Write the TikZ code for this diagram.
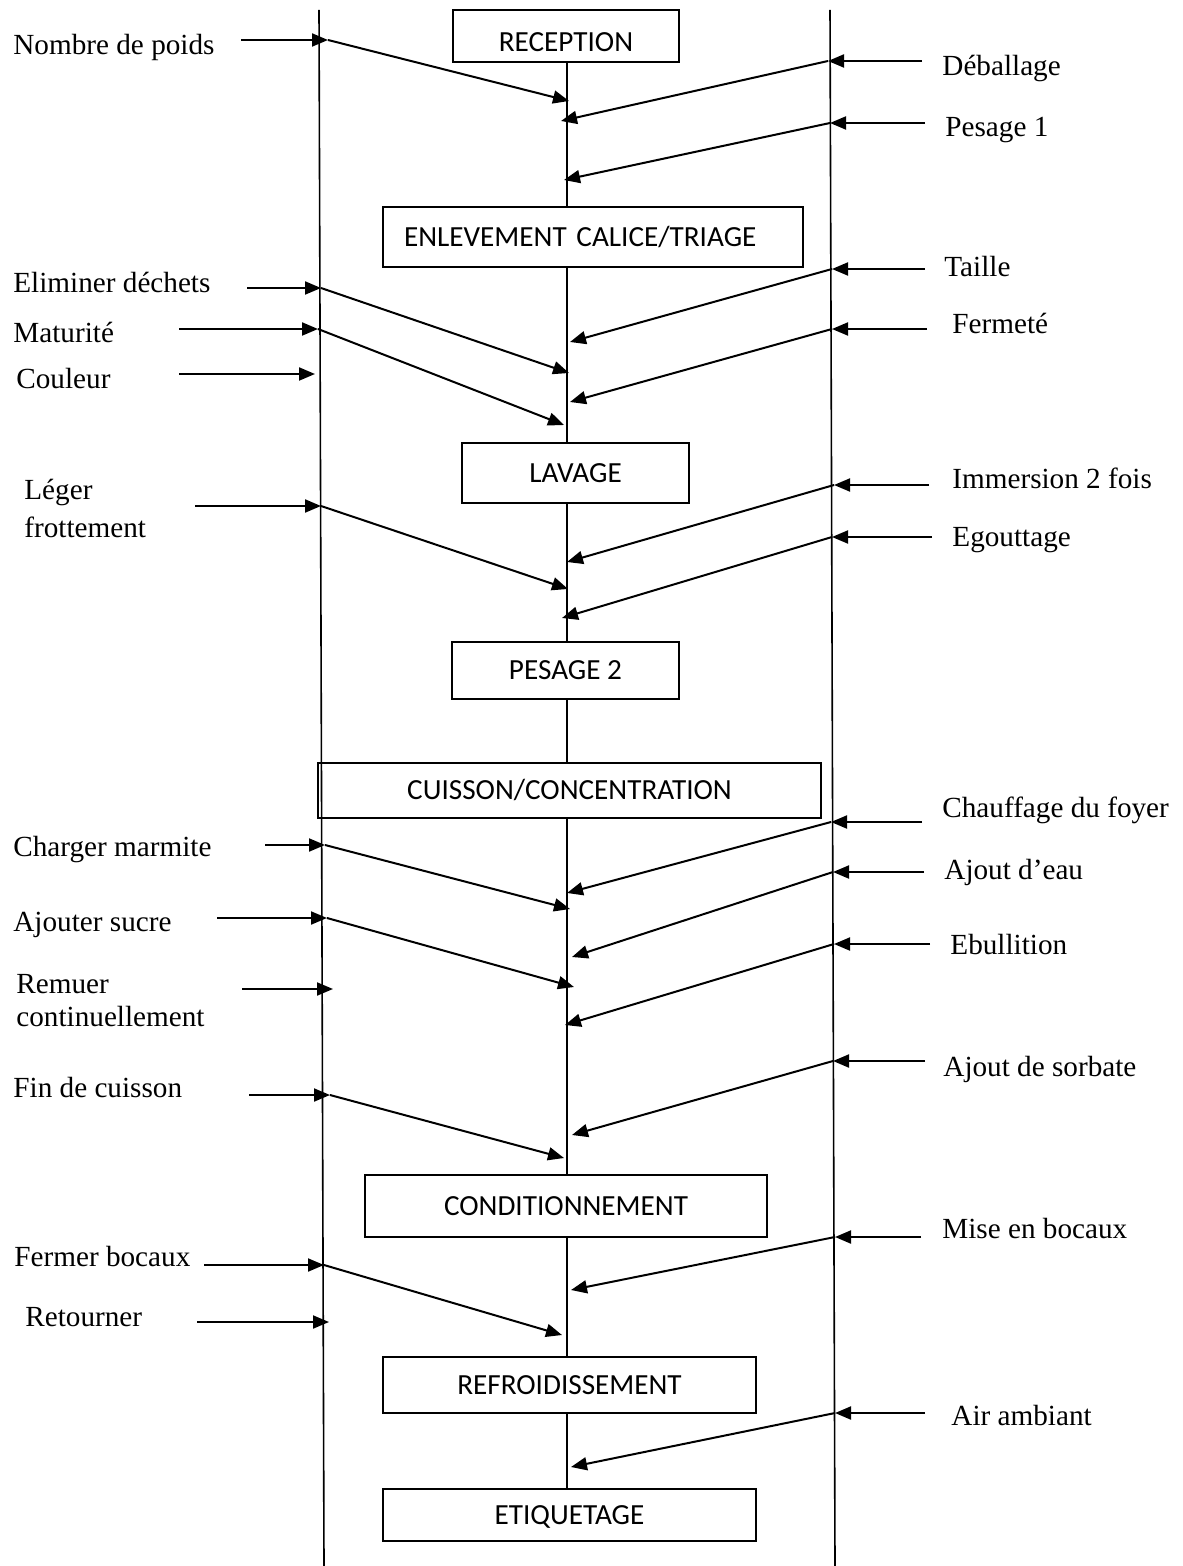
\documentclass[tikz,border=0pt]{standalone}
\usepackage{fontspec}
\setmainfont{Liberation Serif}
\newfontfamily\boxfont{Carlito}
\usetikzlibrary{arrows.meta}

\begin{document}
\begin{tikzpicture}[
    x=0.5pt, y=-0.5pt,
    stage/.style={draw, line width=0.9pt, inner sep=0pt,
                  font=\boxfont\fontsize{14.6}{17}\selectfont,
                  text height=9.4pt, text depth=0pt},
    lbl/.style={inner sep=0pt, font=\fontsize{14.6}{16.5}\selectfont},
    rail/.style={line width=0.8pt},
    link/.style={line width=0.8pt},
    feed/.style={line width=1pt, -{Triangle[length=8pt, width=6.5pt]}}
  ]
  \useasboundingbox (0,0) rectangle (1182,1566);

  % Rails left and right
  \coordinate (railL-top) at (319,10);
  \coordinate (railL-bot) at (324,1566);
  \coordinate (railR-top) at (830,10);
  \coordinate (railR-bot) at (835,1566);
  \draw[rail] (railL-top) -- (railL-bot);
  \draw[rail] (railR-top) -- (railR-bot);

  % Process stages
  \node[stage, minimum width=113pt, minimum height=26pt, text height=15.4pt]
    (rec) at (566,36) {RECEPTION};
  \node[stage, minimum width=210pt, minimum height=30pt, text width=189pt,
        align=left, inner xsep=10.5pt] (enl) at (593,237) {ENLEVEMENT CALICE/TRIAGE};
  \node[stage, minimum width=113.5pt, minimum height=30pt] (lav) at (575.5,473) {LAVAGE};
  \node[stage, minimum width=113.5pt, minimum height=28.5pt] (pes) at (565.5,670.5) {PESAGE 2};
  \node[stage, minimum width=251.5pt, minimum height=27.5pt] (cui) at (569.5,790.5) {CUISSON/CONCENTRATION};
  \node[stage, minimum width=201pt, minimum height=31pt] (con) at (566,1206) {CONDITIONNEMENT};
  \node[stage, minimum width=186.5pt, minimum height=28pt] (ref) at (569.5,1385) {REFROIDISSEMENT};
  \node[stage, minimum width=186.5pt, minimum height=26pt] (eti) at (569.5,1515) {ETIQUETAGE};

  % Spine between stages
  \coordinate (spine) at (567,0);
  \foreach \a/\b in {rec/enl, enl/lav, lav/pes, pes/cui, cui/con, con/ref, ref/eti}
    \draw[link] (spine |- \a.south) -- (spine |- \b.north);

  % Left inputs with a link to the spine
  \foreach \n/\txt/\lx/\ly/\sx/\ay/\rx/\tx/\ty in {
      nombre/Nombre de poids/13/55/241/40/328/569/101,
      elim/Eliminer déchets/13/293/247/288/321/569/373,
      matur/Maturité/13/343/179/329/318/564/425,
      charg/Charger marmite/13/856/265/845/325/570/909,
      ajsuc/Ajouter sucre/13/931/217/918/327/574/987,
      fincu/Fin de cuisson/13/1097/249/1095/330/564/1158,
      fermb/Fermer bocaux/14/1266/204/1265/324/562/1335} {
    \node[lbl, anchor=base west] (\n) at (\lx,\ly) {\txt};
    \coordinate (\n-s) at (\sx,\ay);
    \coordinate (\n-r) at (\rx,\ay);
    \coordinate (\n-t) at (\tx,\ty);
    \draw[feed] (\n-s) -- (\n-r);
    \draw[feed] (\n-r) -- (\n-t);
  }

  % Left inputs stopping at the rail
  \foreach \n/\txt/\lx/\ly/\sx/\ay/\rx in {
      couleur/Couleur/16/389/179/374/315,
      retou/Retourner/25/1326/197/1322/329} {
    \node[lbl, anchor=base west] (\n) at (\lx,\ly) {\txt};
    \coordinate (\n-s) at (\sx,\ay);
    \coordinate (\n-r) at (\rx,\ay);
    \draw[feed] (\n-s) -- (\n-r);
  }

  % Two-line inputs
  \node[lbl, align=left, anchor=west] (leger) at (24,508) {Léger\\[2.5pt]frottement};
  \coordinate (leger-s) at (195,506);
  \coordinate (leger-r) at (321,506);
  \coordinate (leger-t) at (568,589);
  \draw[feed] (leger-s) -- (leger-r);
  \draw[feed] (leger-r) -- (leger-t);

  \node[lbl, align=left, anchor=west] (remu) at (16,1001) {Remuer\\continuellement};
  \coordinate (remu-s) at (242,989);
  \coordinate (remu-r) at (333,989);
  \draw[feed] (remu-s) -- (remu-r);

  % Right inputs
  \foreach \n/\txt/\lx/\ly/\sx/\ay/\rx/\tx/\ty in {
      deball/Déballage/942/76/922/61/828/561/121,
      pesag/Pesage 1/945/137/925/123/830/564/180,
      taill/Taille/944/277/925/269/832/570/342,
      ferme/Fermeté/952/334/927/329/832/570/402,
      immer/Immersion 2 fois/952/489/929/485/834/567/562,
      egout/Egouttage/952/546/932/537/832/562/618,
      chauf/Chauffage du foyer/942/817/922/822/831/567/893,
      ajeau/Ajout d’eau/944/879/924/872/833/572/957,
      ebull/Ebullition/950/954/930/944/834/565/1025,
      sorba/Ajout de sorbate/943/1076/925/1061/833/572/1135,
      misbo/Mise en bocaux/942/1238/921/1237/835/571/1290,
      airam/Air ambiant/951/1425/925/1413/835/571/1467} {
    \node[lbl, anchor=base west] (\n) at (\lx,\ly) {\txt};
    \coordinate (\n-s) at (\sx,\ay);
    \coordinate (\n-r) at (\rx,\ay);
    \coordinate (\n-t) at (\tx,\ty);
    \draw[feed] (\n-s) -- (\n-r);
    \draw[feed] (\n-r) -- (\n-t);
  }
\end{tikzpicture}
\end{document}
